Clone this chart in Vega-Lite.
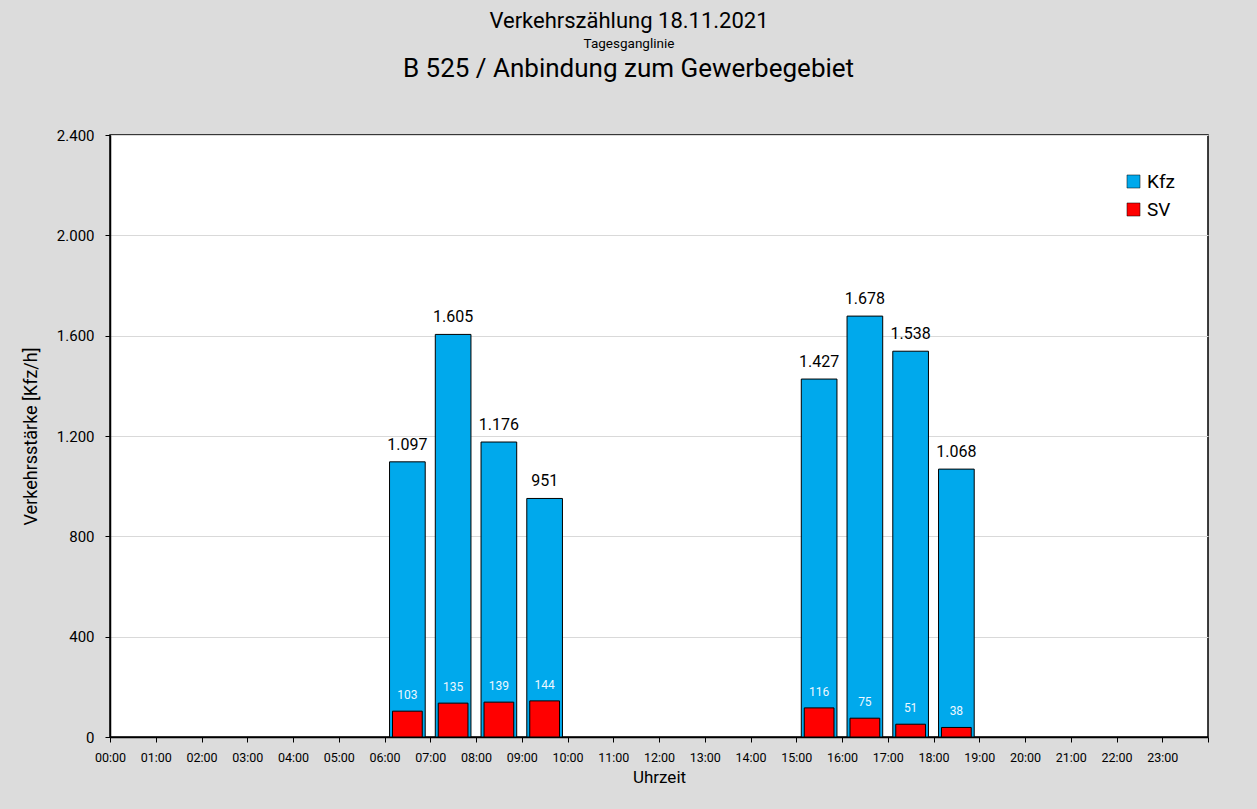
{
  "$schema": "https://vega.github.io/schema/vega-lite/v6.json",
  "width": 1098,
  "height": 602,
  "autosize": {"type": "none"},
  "padding": {"left": 110, "top": 135, "right": 49, "bottom": 72},
  "background": "#dcdcdc",
  "config": {
    "locale": {"number": {"decimal": ",", "thousands": ".", "grouping": [3], "currency": ["", " €"]}},
    "font": "Roboto",
    "view": {"fill": "#ffffff", "stroke": "#000000", "strokeWidth": 1.5}
  },
  "title": {
    "text": "Verkehrszählung 18.11.2021",
    "subtitle": "Tagesganglinie",
    "anchor": "middle",
    "font": "Roboto",
    "fontSize": 22,
    "fontWeight": "normal",
    "color": "#000000",
    "subtitleFont": "Roboto",
    "subtitleFontSize": 13.5,
    "subtitleColor": "#000000",
    "subtitlePadding": 4,
    "offset": 4,
    "dx": -30
  },
  "resolve": {"axis": {"x": "independent"}},
  "data": {
    "values": [
      {"hour": "06:00", "series": "Kfz", "value": 1097},
      {"hour": "07:00", "series": "Kfz", "value": 1605},
      {"hour": "08:00", "series": "Kfz", "value": 1176},
      {"hour": "09:00", "series": "Kfz", "value": 951},
      {"hour": "15:00", "series": "Kfz", "value": 1427},
      {"hour": "16:00", "series": "Kfz", "value": 1678},
      {"hour": "17:00", "series": "Kfz", "value": 1538},
      {"hour": "18:00", "series": "Kfz", "value": 1068},
      {"hour": "06:00", "series": "SV", "value": 103},
      {"hour": "07:00", "series": "SV", "value": 135},
      {"hour": "08:00", "series": "SV", "value": 139},
      {"hour": "09:00", "series": "SV", "value": 144},
      {"hour": "15:00", "series": "SV", "value": 116},
      {"hour": "16:00", "series": "SV", "value": 75},
      {"hour": "17:00", "series": "SV", "value": 51},
      {"hour": "18:00", "series": "SV", "value": 38}
    ]
  },
  "encoding": {
    "y": {
      "field": "value",
      "type": "quantitative",
      "scale": {"domain": [0, 2400], "nice": false},
      "axis": {
        "title": "Verkehrsstärke [Kfz/h]",
        "titleFontSize": 18,
        "titleFontWeight": "normal",
        "titleColor": "#000000",
        "titlePadding": 16,
        "values": [0, 400, 800, 1200, 1600, 2000, 2400],
        "format": ",d",
        "labelFontSize": 15,
        "labelColor": "#000000",
        "labelPadding": 11,
        "tickColor": "#000000",
        "tickSize": 5,
        "domainColor": "#000000",
        "domainWidth": 1.5,
        "gridColor": "#d9d9d9",
        "gridWidth": 1
      }
    }
  },
  "layer": [
    {
      "transform": [{"filter": "datum.series === 'Kfz'"}],
      "mark": {"type": "bar", "width": {"band": 0.78}, "stroke": "#000000", "strokeWidth": 1},
      "encoding": {
        "x": {
          "field": "hour",
          "type": "ordinal",
          "scale": {
            "domain": ["00:00","01:00","02:00","03:00","04:00","05:00","06:00","07:00","08:00","09:00","10:00","11:00","12:00","13:00","14:00","15:00","16:00","17:00","18:00","19:00","20:00","21:00","22:00","23:00"],
            "paddingInner": 0,
            "paddingOuter": 0
          },
          "axis": {
            "orient": "bottom",
            "title": "Uhrzeit",
            "titleFontSize": 17,
            "titleFontWeight": "normal",
            "titleColor": "#000000",
            "titlePadding": 6,
            "labelAngle": 0,
            "labelFontSize": 12.5,
            "labelColor": "#000000",
            "labelOffset": -22.875,
            "labelPadding": 9,
            "tickBand": "extent",
            "tickColor": "#000000",
            "tickSize": 5,
            "domainColor": "#000000",
            "domainWidth": 1.5,
            "grid": false
          }
        },
        "color": {
          "field": "series",
          "type": "nominal",
          "scale": {"domain": ["Kfz", "SV"], "range": ["#00a9ec", "#ff0000"]},
          "legend": {
            "title": null,
            "orient": "none",
            "legendX": 1014,
            "legendY": 37,
            "symbolType": "square",
            "symbolSize": 170,
            "symbolStrokeColor": "#333333",
            "symbolStrokeWidth": 0.5,
            "labelFontSize": 19,
            "labelColor": "#000000",
            "rowPadding": 8,
            "labelOffset": 4
          }
        }
      }
    },
    {
      "transform": [{"filter": "datum.series === 'SV'"}],
      "mark": {"type": "bar", "width": {"band": 0.65}, "stroke": "#000000", "strokeWidth": 1},
      "encoding": {
        "x": {"field": "hour", "type": "ordinal", "axis": null},
        "color": {"field": "series", "type": "nominal"}
      }
    },
    {
      "transform": [{"filter": "datum.series === 'Kfz'"}],
      "mark": {"type": "text", "baseline": "middle", "dy": -17, "fontSize": 16, "color": "#000000"},
      "encoding": {
        "x": {"field": "hour", "type": "ordinal", "axis": null},
        "text": {"field": "value", "type": "quantitative", "format": ",d"}
      }
    },
    {
      "transform": [{"filter": "datum.series === 'SV'"}],
      "mark": {"type": "text", "baseline": "middle", "dy": -16, "fontSize": 12, "color": "#eef8ff"},
      "encoding": {
        "x": {"field": "hour", "type": "ordinal", "axis": null},
        "text": {"field": "value", "type": "quantitative", "format": ",d"}
      }
    },
    {
      "mark": {"type": "text", "opacity": 0},
      "encoding": {
        "x": {
          "field": "hour",
          "type": "ordinal",
          "axis": {
            "orient": "top",
            "labels": false,
            "ticks": false,
            "domain": false,
            "grid": false,
            "title": "B 525 / Anbindung zum Gewerbegebiet",
            "titleFontSize": 26,
            "titleFontWeight": "normal",
            "titleColor": "#000000",
            "titlePadding": 54,
            "titleX": 518
          }
        },
        "text": {"value": ""}
      }
    }
  ]
}
